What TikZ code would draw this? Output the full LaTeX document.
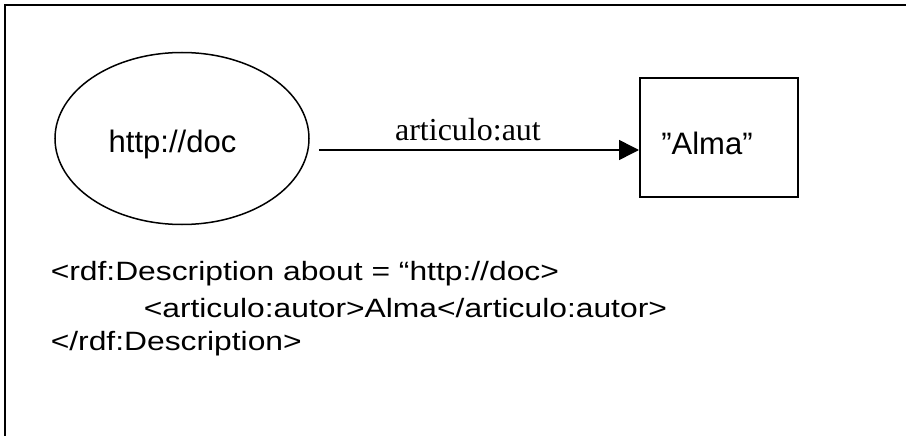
\documentclass[tikz,border=0pt]{standalone}
\usepackage{fontspec}
\setmainfont{Liberation Sans}
\newfontfamily\lblfont{Liberation Serif}
\newfontfamily\xmlfont[FakeStretch=1.2]{Liberation Sans}
\usetikzlibrary{shapes.geometric,arrows.meta}

\begin{document}
\begin{tikzpicture}[x=1pt,y=-1pt,>={Triangle[length=20pt,width=20pt]},line width=1.5pt,
    main node/.style={draw,font=\fontsize{31}{36}\selectfont,text depth=0pt},
    xml node/.style={anchor=base west,inner sep=0pt,font=\xmlfont\fontsize{26.5}{30}\selectfont}]

            \useasboundingbox (0,0) rectangle (906,436);
            \draw[line width=2pt] (906,5) -- (5,5) -- (5,436);

            \node[main node, ellipse, minimum width=254pt, minimum height=172pt, text height=29pt] (1) at (182,138.5) {http://doc\hspace*{19pt}};
            \node[main node, rectangle, line width=2pt, minimum width=158pt, minimum height=119pt, text height=33pt] (2) at (719,137.5) {”Alma”\hspace*{24pt}};

            \node[xml node] (3) at (50,280) {<rdf:Description about = “http://doc>};
            \node[xml node] (4) at (143,317) {<articulo:autor>Alma</articulo:autor>};
            \node[xml node] (5) at (50,350) {</rdf:Description>};

            \path[->]
                ([xshift=9pt,yshift=-11.5pt]1.east) edge node[pos=0.466, anchor=base, yshift=10pt, font=\lblfont\fontsize{32}{38}\selectfont]{articulo:aut} ([yshift=-12.5pt]2.west)
                ;
        \end{tikzpicture}
\end{document}
